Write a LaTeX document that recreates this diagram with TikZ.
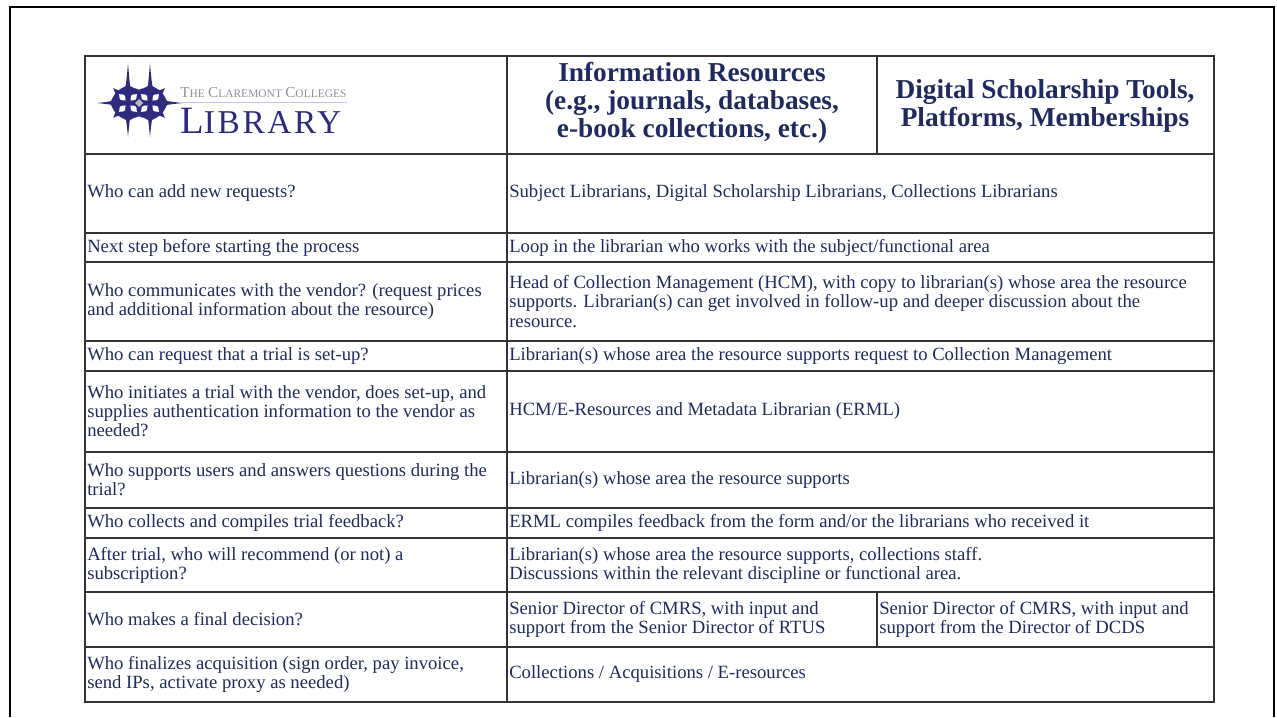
\documentclass[tikz,border=0pt]{standalone}
\usepackage{fontspec}
\setmainfont{Liberation Serif}
\definecolor{navy}{HTML}{1F2A5E}
\definecolor{logopurple}{HTML}{2E2A7E}
\definecolor{logogray}{HTML}{8C9099}
\definecolor{logoline}{HTML}{C4C2DE}
\tikzset{
  qtext/.style={anchor=west, inner sep=0pt, align=left, text=navy, font=\fontsize{14}{14.3}\selectfont},
  htext/.style={inner sep=0pt, align=center, text=navy, font=\fontsize{20.5}{21}\selectfont\bfseries},
  tableline/.style={line width=0.9pt, draw=black!80}
}
\newcommand{\fourstar}[7]{%
  \fill[logopurple] (#1+#3,#2) .. controls (#1+#7,#2-#7) .. (#1,#2-#4)
    .. controls (#1-#7,#2-#7) .. (#1-#5,#2) .. controls (#1-#7,#2+#7) .. (#1,#2+#6)
    .. controls (#1+#7,#2+#7) .. cycle;}
\newcommand{\smc}[2]{{\fontsize{11.4}{12}\selectfont #1}{\fontsize{8.6}{12}\selectfont #2}}
\begin{document}
\begin{tikzpicture}[x=0.75pt,y=-0.75pt]
\useasboundingbox (0,0) rectangle (1277,717);
\draw[line width=2pt] (10,717) -- (10,7) -- (1274,7) -- (1274,717);

% logo
\foreach \cx in {128,150} {
  \fourstar{\cx}{103}{18}{18}{18}{18}{12}
  \begin{scope}[shift={(\cx,103)}, rotate=45]
    \fourstar{0}{0}{21}{21}{21}{21}{6}
  \end{scope}
}
\fourstar{128}{103}{15}{40}{31}{34}{3}
\fourstar{150}{103}{33}{40}{15}{34}{3}
\foreach \cx in {128,150}
  \foreach \a in {45,135,225,315}
    \fill[white, shift={(\cx,103)}, rotate=\a] (3.5,0) .. controls (8,4) .. (12.5,0) .. controls (8,-4) .. cycle;
\fill[gray!55] (139,99) -- (143,103) -- (139,107) -- (135,103) -- cycle;
\node[anchor=west, inner sep=0pt, text=logogray] (logotop) at (180,92.5) {\smc{T}{HE} \smc{C}{LAREMONT} \smc{C}{OLLEGES}};
\draw[logoline, line width=0.8pt] (178,102.5) -- (347,102.5);
\node[anchor=west, inner sep=0pt, text=logopurple] (logobig) at (180,121) {\addfontfeature{LetterSpace=8}{\fontsize{29}{29}\selectfont L}{\fontsize{25}{25}\selectfont IBRARY}};

% table
\draw[tableline] (85,56) rectangle (1214,702);
\foreach \y in {154,233,262,341,371,452,508,538,592,647}
  \draw[tableline] (85,\y) -- (1214,\y);
\draw[tableline] (507,56) -- (507,702);
\draw[tableline] (877,56) -- (877,154);
\draw[tableline] (877,592) -- (877,647);

\node[htext] (hinfo) at (692,103) {Information Resources\\(e.g., journals, databases,\\e-book collections, etc.)};
\node[htext] (hdig) at (1045,105.5) {Digital Scholarship Tools,\\Platforms, Memberships};

\node[qtext] (q1) at (87,193.5) {Who can add new requests?};
\node[qtext] (q2) at (87,247.5) {Next step before starting the process};
\node[qtext] (q3) at (87,301.5) {Who communicates with the vendor? (request prices\\and additional information about the resource)};
\node[qtext] (q4) at (87,356) {Who can request that a trial is set-up?};
\node[qtext] (q5) at (87,411.5) {Who initiates a trial with the vendor, does set-up, and\\supplies authentication information to the vendor as\\needed?};
\node[qtext] (q6) at (87,480) {Who supports users and answers questions during the\\trial?};
\node[qtext] (q7) at (87,523) {Who collects and compiles trial feedback?};
\node[qtext] (q8) at (87,565) {After trial, who will recommend (or not) a\\subscription?};
\node[qtext] (q9) at (87,619.5) {Who makes a final decision?};
\node[qtext] (q10) at (87,674.5) {Who finalizes acquisition (sign order, pay invoice,\\send IPs, activate proxy as needed)};

\node[qtext] (a1) at (509,193.5) {Subject Librarians, Digital Scholarship Librarians, Collections Librarians};
\node[qtext] (a2) at (509,247.5) {Loop in the librarian who works with the subject/functional area};
\node[qtext] (a3) at (509,301.5) {Head of Collection Management (HCM), with copy to librarian(s) whose area the resource\\supports. Librarian(s) can get involved in follow-up and deeper discussion about the\\resource.};
\node[qtext] (a4) at (509,356) {Librarian(s) whose area the resource supports request to Collection Management};
\node[qtext] (a5) at (509,411.5) {HCM/E-Resources and Metadata Librarian (ERML)};
\node[qtext] (a6) at (509,480) {Librarian(s) whose area the resource supports};
\node[qtext] (a7) at (509,523) {ERML compiles feedback from the form and/or the librarians who received it};
\node[qtext] (a8) at (509,565) {Librarian(s) whose area the resource supports, collections staff.\\Discussions within the relevant discipline or functional area.};
\node[qtext] (a9) at (509,619.5) {Senior Director of CMRS, with input and\\support from the Senior Director of RTUS};
\node[qtext] (a9b) at (879,619.5) {Senior Director of CMRS, with input and\\support from the Director of DCDS};
\node[qtext] (a10) at (509,674.5) {Collections / Acquisitions / E-resources};
\end{tikzpicture}
\end{document}
